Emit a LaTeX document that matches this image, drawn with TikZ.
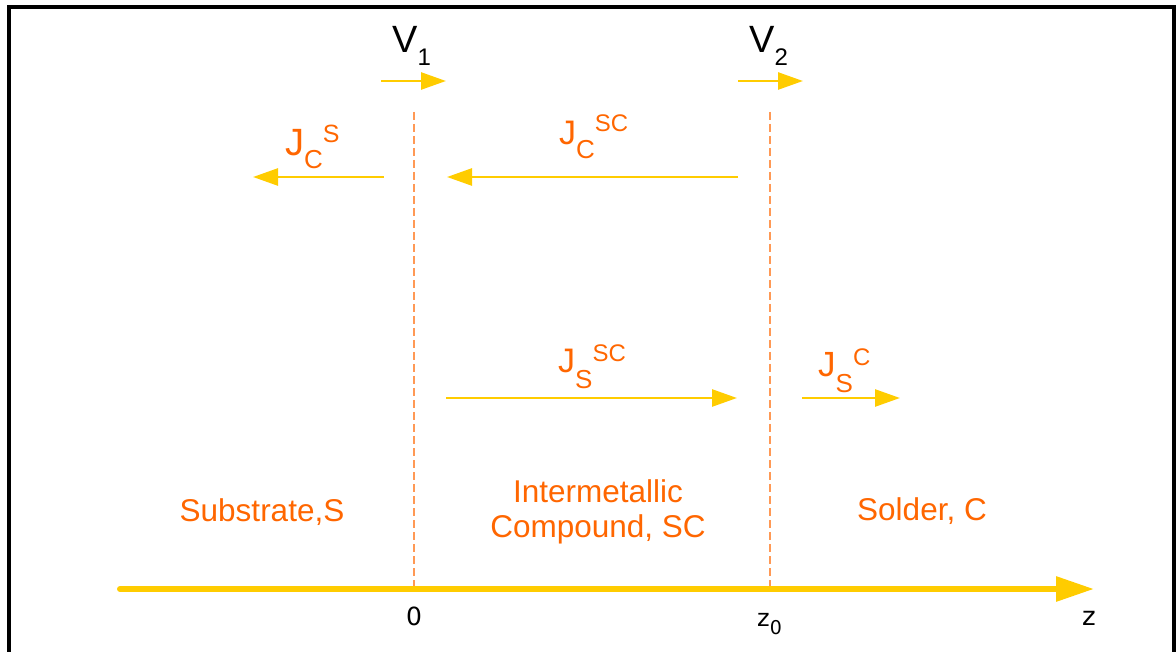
\documentclass[tikz,border=0pt]{standalone}
\usepackage{fontspec}
\setmainfont{Liberation Sans}
\newfontfamily\dvs{DejaVu Sans}
\usetikzlibrary{arrows.meta}
\definecolor{txtorange}{HTML}{FF6600}
\definecolor{arryellow}{HTML}{FFCC00}
\definecolor{dashorange}{HTML}{FF9955}
\newcommand{\fs}[1]{\fontsize{#1}{#1}\selectfont}
\begin{document}
\begin{tikzpicture}[x=1pt,y=-1pt,
  flux/.style={draw=arryellow, line width=2.6pt, -{Triangle[length=25pt,width=17pt]}},
  axisline/.style={draw=arryellow, line width=6pt, line cap=round, -{Triangle[length=38pt,width=24pt]}},
  iface/.style={draw=dashorange, line width=1.2pt, dash pattern=on 8pt off 4pt},
  olab/.style={inner sep=0pt, anchor=base west, text=txtorange},
  region/.style={inner sep=0pt, anchor=base, text=txtorange, font=\fontsize{31.5}{35}\selectfont, align=center},
  blab/.style={inner sep=0pt, text=black}]
\useasboundingbox (0,0) rectangle (1176,652);
% frame
\draw[line width=4pt, line join=miter] (9,720) -- (9,7) -- (1174,7) -- (1174,720);
% interfaces
\coordinate (i1t) at (414,112); \coordinate (i1b) at (414,588);
\coordinate (i2t) at (770,112); \coordinate (i2b) at (770,588);
\draw[iface] (i1t) -- (i1b);
\draw[iface] (i2t) -- (i2b);
% axis
\coordinate (ax0) at (120,589); \coordinate (ax1) at (1094,589);
\draw[axisline] (ax0) -- (ax1);
\node[blab, anchor=base] (zero) at (414,625) {\dvs\fs{25}0};
\node[blab, anchor=base west] (zz) at (757,626) {\dvs\fs{24}z\raisebox{-8pt}{\fs{19}0}};
\node[blab, anchor=base] (zax) at (1089,625) {\dvs\fs{26}z};
% velocities
\coordinate (v1a) at (381,81); \coordinate (v1b) at (446,81);
\coordinate (v2a) at (738,81); \coordinate (v2b) at (803,81);
\draw[flux] (v1a) -- (v1b);
\draw[flux] (v2a) -- (v2b);
\node[blab, anchor=base west] (V1) at (392,53) {\fs{38}V\raisebox{-13pt}{\fs{24}1}};
\node[blab, anchor=base west] (V2) at (749,53) {\fs{38}V\raisebox{-13pt}{\fs{24}2}};
% fluxes
\coordinate (jcs0) at (384,177); \coordinate (jcs1) at (253,177);
\coordinate (jcsc0) at (738,177); \coordinate (jcsc1) at (447,177);
\coordinate (jssc0) at (446,398); \coordinate (jssc1) at (737,398);
\coordinate (jsc0) at (802,398); \coordinate (jsc1) at (900,398);
\draw[flux] (jcs0) -- (jcs1);
\draw[flux] (jcsc0) -- (jcsc1);
\draw[flux] (jssc0) -- (jssc1);
\draw[flux] (jsc0) -- (jsc1);
\node[olab] (JCS) at (285,156) {\fs{38}J\raisebox{-13pt}{\fs{26}C}\raisebox{13pt}{\fs{25}S}};
\node[olab] (JCSC) at (559,145) {\fs{34}J\raisebox{-14pt}{\fs{26}C}\raisebox{13pt}{\fs{24}SC}};
\node[olab] (JSSC) at (558,373) {\fs{34}J\raisebox{-16pt}{\fs{26}S}\raisebox{11pt}{\fs{24}SC}};
\node[olab] (JSC) at (818,377) {\fs{35}J\raisebox{-16pt}{\fs{26}S}\raisebox{11pt}{\fs{24}C}};
% regions
\node[region] (sub) at (262,521) {Substrate,S};
\node[region] (imc) at (598,537) {Intermetallic\\Compound, SC};
\node[region] (sol) at (922,520) {Solder, C};
\end{tikzpicture}
\end{document}
